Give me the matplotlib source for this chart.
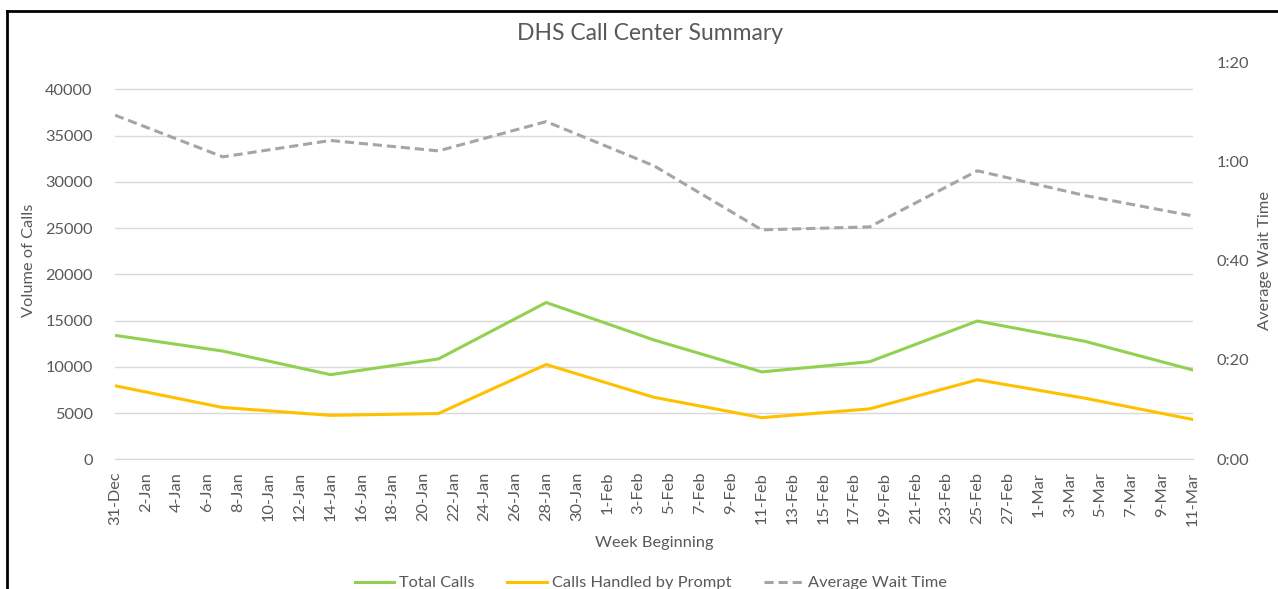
import numpy as np
import pandas as pd
import matplotlib

matplotlib.use("Agg")
import matplotlib.pyplot as plt
from matplotlib.lines import Line2D
from matplotlib.ticker import FuncFormatter, MultipleLocator

# weekly data (week beginning)
weeks = [
    "2017-12-31", "2018-01-07", "2018-01-14", "2018-01-21", "2018-01-28",
    "2018-02-04", "2018-02-11", "2018-02-18", "2018-02-25", "2018-03-04",
    "2018-03-11",
]
total_calls = [13400, 11700, 9150, 10850, 16950, 12900, 9450, 10550, 14950, 12750, 9650]
calls_prompt = [7950, 5600, 4750, 4950, 10250, 6700, 4500, 5450, 8600, 6600, 4300]
wait_seconds = [69.3, 60.9, 64.2, 62.1, 68.0, 59.1, 46.2, 46.8, 58.1, 53.1, 49.0]

tick_dates = pd.date_range("2017-12-31", "2018-03-11", freq="2D")
tick_labels = [f"{d.day}-{d.strftime('%b')}" for d in tick_dates]

TEXT = "#595959"
GRID = "#D9D9D9"
plt.rcParams["font.family"] = ["Lato", "DejaVu Sans"]
plt.rcParams["font.size"] = 11.8

x = pd.to_datetime(weeks)

fig = plt.figure(figsize=(12.78, 5.89), dpi=100)
ax = fig.add_axes([115 / 1278, 129.7 / 589, 1078 / 1278, 397.3 / 589])
ax2 = ax.twinx()

ax.plot(x, total_calls, color="#92D050", linewidth=2.2, label="Total Calls")
ax.plot(x, calls_prompt, color="#FFC000", linewidth=2.2, label="Calls Handled by Prompt")
ax2.plot(x, wait_seconds, color="#A5A5A5", linewidth=2.2, linestyle=(0, (3, 1.6)),
         label="Average Wait Time")

ax.set_xlim(tick_dates[0], tick_dates[-1])
ax.set_xticks(tick_dates)
ax.set_xticklabels(tick_labels, rotation=90, color=TEXT)

ax.set_ylim(0, 40000 * 397.3 / 370)
ax.set_yticks(np.arange(0, 40001, 5000))
ax.grid(axis="y", color=GRID, linewidth=1)
ax.set_axisbelow(True)

ax2.set_ylim(0, 80)
ax2.yaxis.set_major_locator(MultipleLocator(20))
ax2.yaxis.set_major_formatter(FuncFormatter(lambda v, p: f"{int(v) // 60}:{int(v) % 60:02d}"))

for a in (ax, ax2):
    for s in a.spines.values():
        s.set_visible(False)
ax.spines["bottom"].set_visible(True)
ax.spines["bottom"].set_color(GRID)

ax.tick_params(axis="y", length=0, pad=16, colors=TEXT)
ax.tick_params(axis="x", length=0, pad=9, colors=TEXT)
ax2.tick_params(axis="y", length=0, pad=17, colors=TEXT)

ax.set_ylabel("Volume of Calls", color=TEXT, labelpad=7)
ax2.set_ylabel("Average Wait Time", color=TEXT, labelpad=6)
ax.set_xlabel("Week Beginning", color=TEXT, labelpad=7)

fig.text(650 / 1278, 1 - 33 / 589, "DHS Call Center Summary", ha="center", va="center",
         fontsize=16.5, color=TEXT)

handles = ax.get_lines() + ax2.get_lines()
fig.legend(handles=handles, loc="center", bbox_to_anchor=(651 / 1278, 1 - 583 / 589),
           ncol=3, frameon=False, handlelength=2.4, handletextpad=0.3, columnspacing=2.0,
           labelcolor=TEXT)

# screenshot border on top and left
fig.add_artist(Line2D([7 / 1278, 7 / 1278], [0, 1 - 11 / 589], color="black", linewidth=2))
fig.add_artist(Line2D([7 / 1278, 1], [1 - 11 / 589, 1 - 11 / 589], color="black", linewidth=2))

fig.savefig("out.png", dpi=100)
